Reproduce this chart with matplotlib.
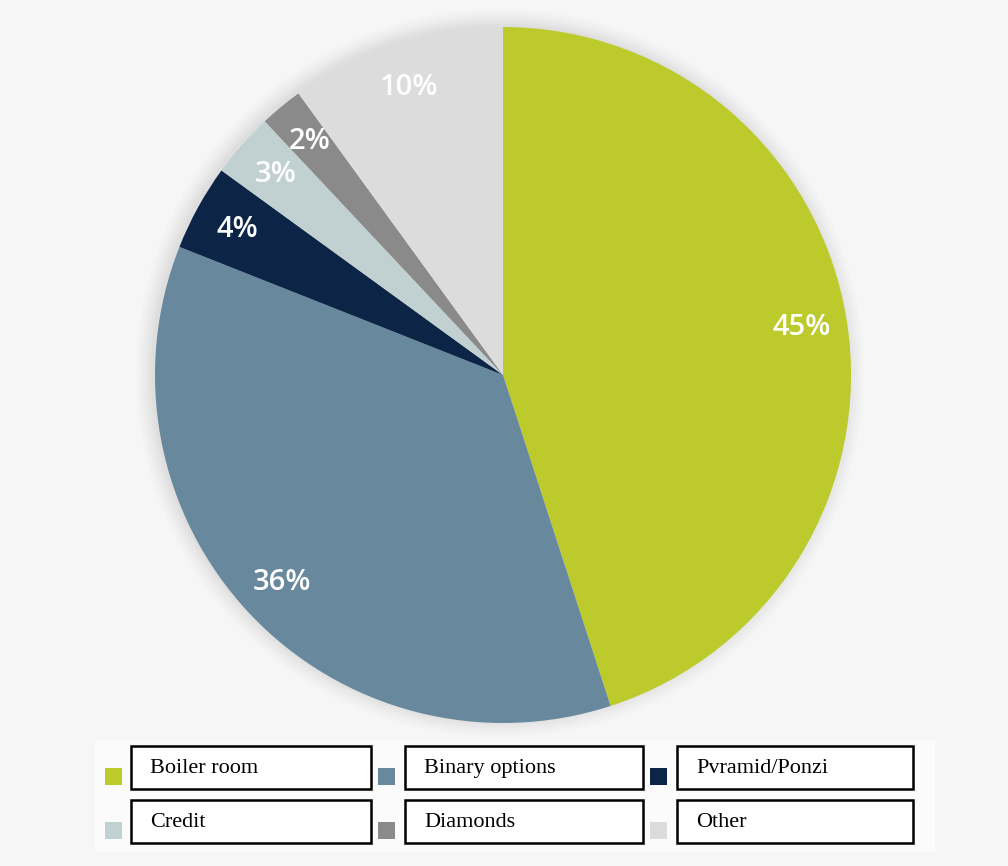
import matplotlib
matplotlib.use("Agg")
import matplotlib.pyplot as plt
from matplotlib.patches import Rectangle, Circle

categories = ["Boiler room", "Binary options", "Pvramid/Ponzi", "Credit", "Diamonds", "Other"]
values = [45, 36, 4, 3, 2, 10]
colors = ["#bccb2b", "#68899d", "#0c2446", "#c1d1d1", "#8a8a8a", "#dcdcdc"]

W, H = 1008, 866
fig = plt.figure(figsize=(W / 100, H / 100), dpi=100)
fig.patch.set_facecolor("#f6f6f6")
ax = fig.add_axes([0, 0, 1, 1])
ax.set_xlim(0, W)
ax.set_ylim(0, H)
ax.set_aspect("equal")
ax.axis("off")

cx, cy, r = 503, H - 375, 348

# soft shadow around the pie
for i, a in enumerate([0.02, 0.025, 0.03, 0.035, 0.04, 0.045]):
    ax.add_patch(Circle((cx - 3, cy + 2), r + 16 - i * 3, color="#808080", alpha=a, lw=0, zorder=1))

wedges, texts, autotexts = ax.pie(
    values, colors=colors, startangle=90, counterclock=False,
    center=(cx, cy), radius=r, autopct="%d%%", pctdistance=0.87,
    wedgeprops=dict(linewidth=0), frame=True,
    textprops=dict(color="white", fontsize=21, family=["Open Sans", "DejaVu Sans"], fontweight="semibold"),
)
for w in wedges:
    w.set_zorder(2)
for t in autotexts:
    t.set_zorder(3)
ax.set_xlim(0, W)
ax.set_ylim(0, H)
ax.axis("off")

# legend area
ax.add_patch(Rectangle((95, H - 852), 840, 112, color="#fbfbfb", lw=0, zorder=1))
col_sq_x = [105, 378, 650]
col_box_x = [131, 405, 677]
box_w = [240, 238, 236]
row_top = [746, 800]
box_h = 43
for i, (lab, c) in enumerate(zip(categories, colors)):
    row, col = divmod(i, 3)
    top = row_top[row]
    ax.add_patch(Rectangle((col_sq_x[col], H - (top + 39)), 17, 17, color=c, lw=0, zorder=4))
    ax.add_patch(Rectangle((col_box_x[col], H - (top + box_h)), box_w[col], box_h,
                           facecolor="white", edgecolor="black", lw=1.8, zorder=4))
    ax.text(col_box_x[col] + 19, H - (top + box_h / 2 + 1), lab, ha="left", va="center",
            fontsize=16, family="Liberation Serif", color="black", zorder=5)

fig.savefig("out.png", dpi=100, facecolor=fig.get_facecolor())
